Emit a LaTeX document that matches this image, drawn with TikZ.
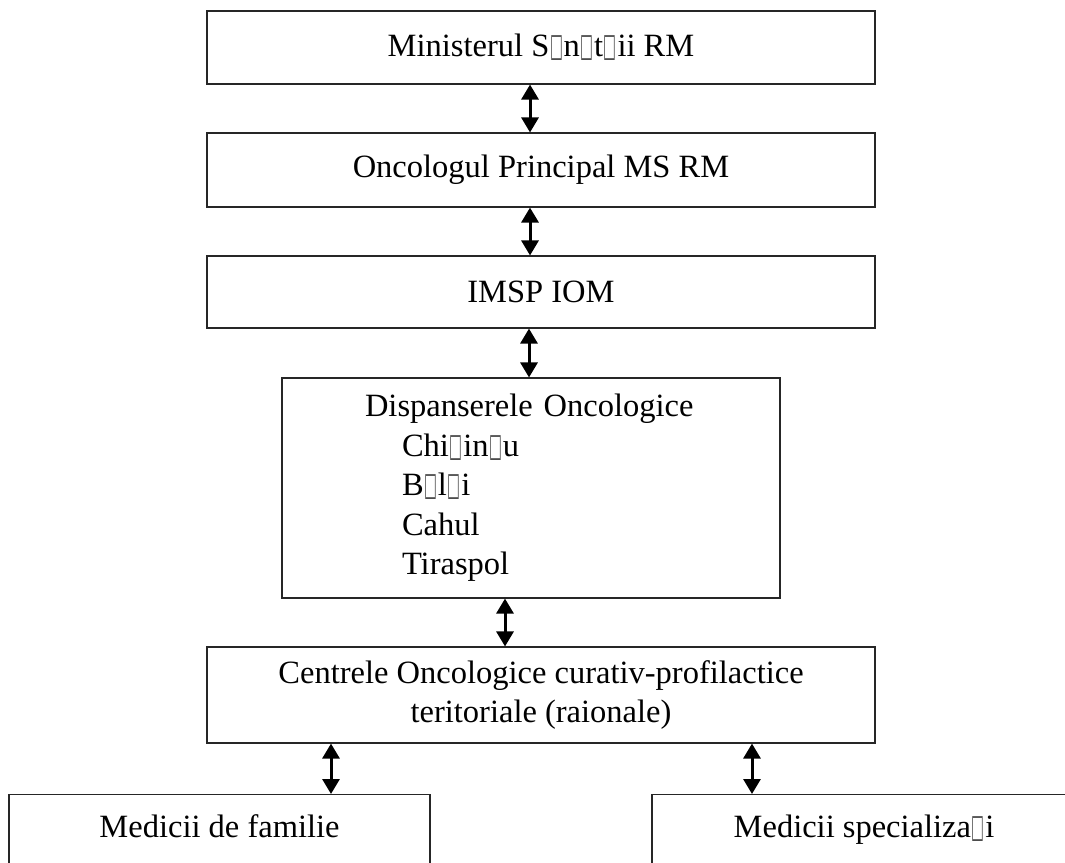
\documentclass[tikz,border=0pt]{standalone}
\usepackage{fontspec}
\setmainfont{Liberation Serif}
\newfontfamily\symfont{DejaVu Sans}
\usetikzlibrary{arrows.meta}

% missing-glyph box, as the picture prints it
\newcommand{\nd}{\makebox[.44em][c]{\color{black!70}\symfont\scalebox{.42}[1]{□}}}

\tikzset{
	orgbox/.style={draw=black!85, line width=1.1pt, rectangle, inner sep=0pt, align=center},
	link/.style={{Triangle[width=17pt,length=15pt]}-{Triangle[width=17pt,length=15pt]}, line width=3pt}
}

\begin{document}
\begin{tikzpicture}[x=1pt, y=-1pt, font=\fontsize{32.5}{39.5}\selectfont]
	\clip (0,0) rectangle (1065,862);

	% Boxes:
	\node[orgbox, minimum width=668pt, minimum height=73pt] (ministry) at (541, 47.5) {Ministerul S\nd n\nd t\nd ii RM};
	\node[orgbox, minimum width=668pt, minimum height=74pt] (chief) at (541, 170) {Oncologul Principal MS RM};
	\node[orgbox, minimum width=668pt, minimum height=72pt] (iom) at (541, 292) {IMSP IOM};
	\node[orgbox, minimum width=498pt, minimum height=220pt, text width=332pt, align=left] (disp) at (531, 488)
		{Dispanserele Oncologice\\
		\hspace*{37pt}Chi\nd in\nd u\\
		\hspace*{37pt}B\nd l\nd i\\
		\hspace*{37pt}Cahul\\
		\hspace*{37pt}Tiraspol};
	\node[orgbox, minimum width=668pt, minimum height=96pt] (centres) at (541, 695)
		{Centrele Oncologice curativ-profilactice\\ teritoriale (raionale)};
	\node[orgbox, minimum width=421pt, text height=43pt, text depth=60pt, anchor=north] (family) at (219.5, 794) {Medicii de familie};
	\node[orgbox, minimum width=424pt, text height=43pt, text depth=60pt, anchor=north] (special) at (864, 794) {Medicii specializa\nd i};

	% Arrows:
	\draw[link] ([xshift=-11pt]ministry.south) -- ([xshift=-11pt]chief.north);
	\draw[link] ([xshift=-11pt]chief.south) -- ([xshift=-11pt]iom.north);
	\draw[link] ([xshift=-12pt]iom.south) -- ([xshift=-2pt]disp.north);
	\draw[link] ([xshift=-26pt]disp.south) -- ([xshift=-36pt]centres.north);
	\draw[link] ([xshift=-210pt]centres.south) -- ([xshift=111.5pt]family.north);
	\draw[link] ([xshift=211pt]centres.south) -- ([xshift=-112pt]special.north);

\end{tikzpicture}
\end{document}
